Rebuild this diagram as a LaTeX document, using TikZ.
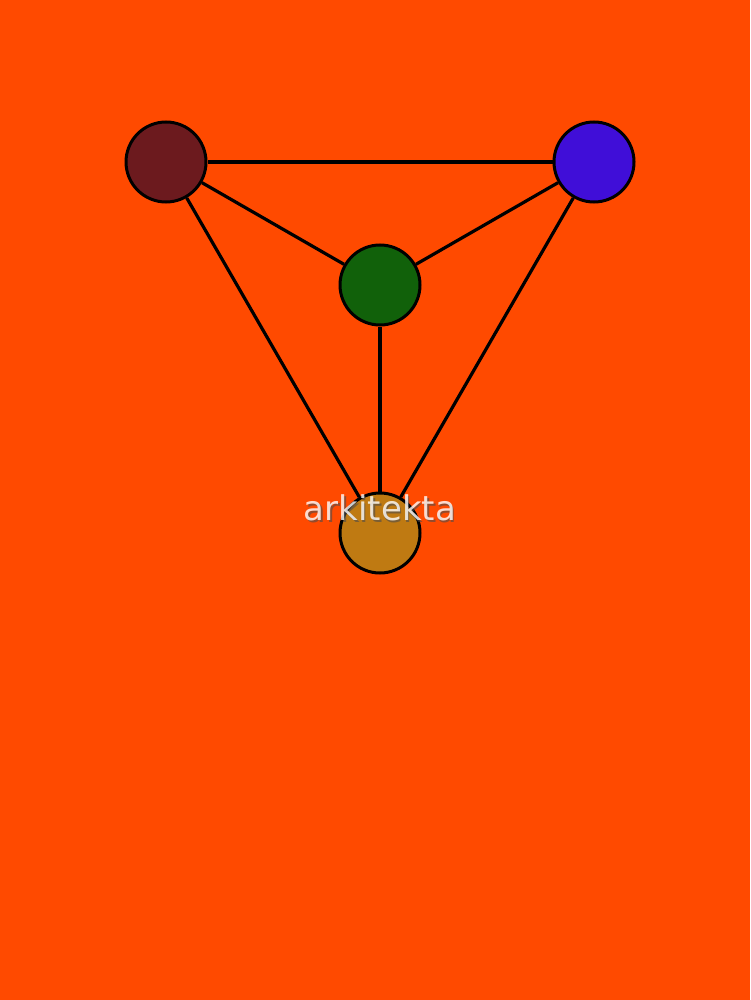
\documentclass[tikz,border=0pt]{standalone}
\usepackage{fontspec}
\setmainfont{DejaVu Sans}
\definecolor{bg}{HTML}{FF4A00}
\definecolor{cmaroon}{HTML}{6C1A1E}
\definecolor{cblue}{HTML}{400ED8}
\definecolor{cgreen}{HTML}{11610A}
\definecolor{cgold}{HTML}{BF7A12}
\begin{document}
\begin{tikzpicture}[x=1pt,y=-1pt,
  vert/.style={circle,draw=black,line width=3pt,minimum size=80pt,inner sep=0pt},
  edge/.style={draw=black,line width=3.2pt}]
\fill[bg] (0,0) rectangle (750,1000);
\useasboundingbox (0,0) rectangle (750,1000);
\node[vert,fill=cmaroon] (m) at (166,162) {};
\node[vert,fill=cblue] (b) at (594,162) {};
\node[vert,fill=cgreen] (g) at (380,285) {};
\node[vert,fill=cgold] (y) at (380,533) {};
\path[edge] (m) -- (b);
\path[edge] (m) -- (g);
\path[edge] (b) -- (g);
\path[edge] (m) -- (y);
\path[edge] (b) -- (y);
\path[edge] (g) -- (y);
\node[text=black!70,opacity=0.6,font=\fontsize{34}{40}\selectfont,inner sep=0pt] (sh) at (381.5,509.5) {arkitekta};
\node[text=white,opacity=0.8,font=\fontsize{34}{40}\selectfont,inner sep=0pt] (lbl) at (380,508) {arkitekta};
\end{tikzpicture}
\end{document}
